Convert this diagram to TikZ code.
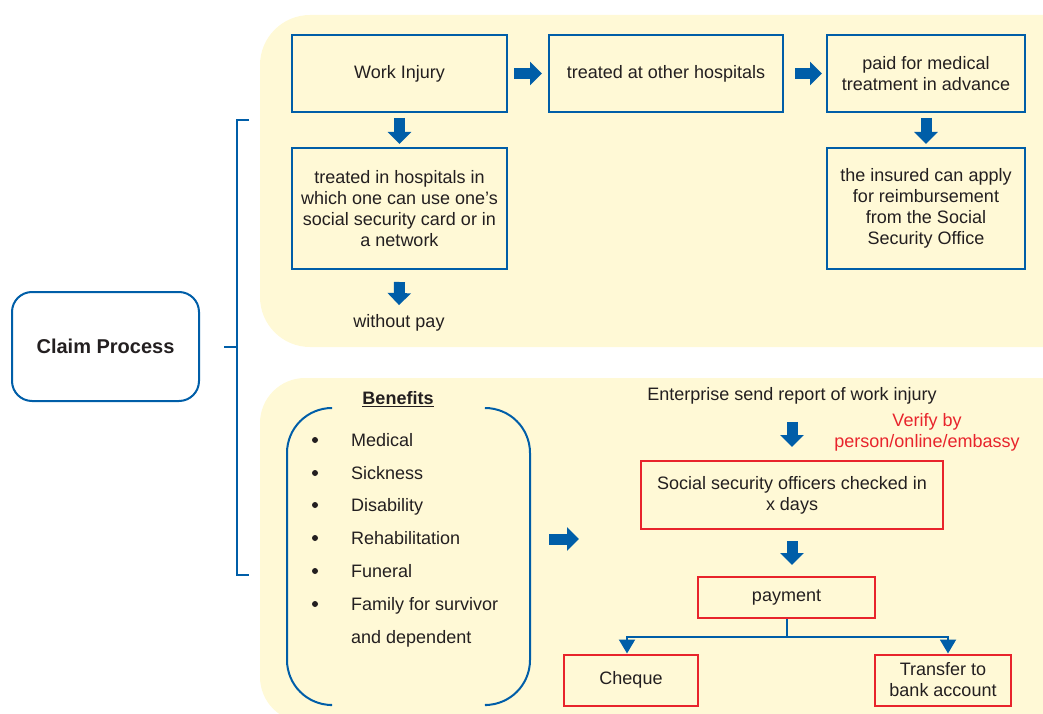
\documentclass[tikz,border=0pt]{standalone}
\usepackage{fontspec}
\setmainfont{Liberation Sans}
\usetikzlibrary{arrows.meta,calc}
\definecolor{panel}{RGB}{255,249,214}
\definecolor{bluel}{RGB}{0,94,168}
\definecolor{redl}{RGB}{232,36,44}
\definecolor{ink}{RGB}{35,31,32}

\begin{document}
\begin{tikzpicture}[x=1pt,y=-1pt,
  font=\fontsize{18}{21}\selectfont, text=ink,
  bluebox/.style={draw=bluel, line width=2pt, align=center, inner sep=0pt},
  redbox/.style={draw=redl, line width=2pt, align=center, inner sep=0pt},
  blockarrow/.style={draw=bluel, line width=11pt, -{Triangle[width=23pt,length=12pt]}},
  branch/.style={draw=bluel, line width=2pt, -{Triangle[width=16pt,length=14pt]}},
  thinblue/.style={draw=bluel, line width=2pt},
  item/.style={anchor=base west, inner sep=0pt},
  dot/.style={circle, fill=ink, inner sep=0pt, minimum size=6pt},
]
\clip (0,0) rectangle (1043,714);

% background panels
\fill[panel, rounded corners=50pt] (260,15) rectangle (1093,347);
\fill[panel, rounded corners=45pt] (260,378) rectangle (1088,722);

% root and bracket
\node[draw=bluel, line width=2pt, rounded corners=20pt, minimum width=187pt, minimum height=109pt,
      font=\fontsize{20}{23}\selectfont\bfseries] (claim) at (105.5,346.5) {Claim Process};
\coordinate (tick) at (224,347);
\coordinate (brk) at (237,347);
\draw[thinblue] (249,120) -| (237,575) -- (249,575);
\draw[thinblue] (tick) -- (brk);

% upper panel: medical treatment
\node[bluebox, minimum width=215pt, minimum height=77pt] (wi) at (399.5,73.5) {Work Injury};
\node[bluebox, minimum width=234pt, minimum height=77pt] (toh) at (666,73.5) {treated at other hospitals};
\node[bluebox, minimum width=198pt, minimum height=77pt] (paid) at (926,73.5) {paid for medical\\treatment in advance};
\node[bluebox, minimum width=215pt, minimum height=121pt] (tih) at (399.5,208.5)
  {treated in hospitals in\\which one can use one’s\\social security card or in\\a network};
\node[bluebox, minimum width=198pt, minimum height=121pt] (ins) at (926,208.5)
  {the insured can apply\\for reimbursement\\from the Social\\Security Office};
\node (wop) at (399,323) {without pay};

\draw[blockarrow] ($(wi.east)+(6,0)$) -- ($(toh.west)+(-6,0)$);
\draw[blockarrow] ($(toh.east)+(11,0)$) -- ($(paid.west)+(-4,0)$);
\draw[blockarrow] ($(wi.south)+(0,5)$) -- ($(tih.north)+(0,-3)$);
\draw[blockarrow] ($(paid.south)+(0,5)$) -- ($(ins.north)+(0,-3)$);
\draw[blockarrow] ($(tih.south)+(0,12)$) -- ($(wop.north)+(0,-6)$);

% lower panel: benefits list
\node[font=\fontsize{18}{21}\selectfont\bfseries] (ben) at (398,399) {\underline{Benefits}};
\draw[thinblue, rounded corners=45pt] (330,408) -| (287,705) -- (330,705);
\draw[thinblue, rounded corners=45pt] (487,408) -| (530,705) -- (487,705);
\foreach \y/\t [count=\i] in {440/Medical, 473/Sickness, 505/Disability, 538/Rehabilitation,
                              571/Funeral, 604/Family for survivor} {
  \node[dot] (b\i) at (315,\y) {};
  \node[item] (t\i) at (351,\y+6.5) {\t};
}
\node[item] (t7) at (351,643.5) {and dependent};

\coordinate (la) at (549,539);
\coordinate (lb) at (579,539);
\draw[blockarrow] (la) -- (lb);

% lower panel: claim handling
\node (ent) at (792,396) {Enterprise send report of work injury};
\node[text=redl, align=center] (ver) at (927,432) {Verify by\\person/online/embassy};
\node[redbox, minimum width=302pt, minimum height=68pt] (sso) at (792,495)
  {Social security officers checked in\\x days};
\node[redbox, minimum width=177pt, minimum height=41pt] (pay) at (786.5,597.5) {payment};
\node[redbox, minimum width=134pt, minimum height=51pt] (chq) at (631,680) {Cheque};
\node[redbox, minimum width=136pt, minimum height=51pt] (trf) at (943,680) {Transfer to\\bank account};

\draw[blockarrow] ($(ent.south)+(0,14)$) -- ($(sso.north)+(0,-13)$);
\draw[blockarrow] ($(sso.south)+(0,11)$) -- ($(sso.south |- pay.north)+(0,-11)$);

\coordinate (jn) at ($(pay.south)+(0,18)$);
\draw[thinblue] (pay.south) -- (jn);
\draw[branch] (jn) -| ($(chq.north)+(-4,0)$);
\draw[branch] (jn) -| ($(trf.north)+(5,0)$);
\end{tikzpicture}
\end{document}
